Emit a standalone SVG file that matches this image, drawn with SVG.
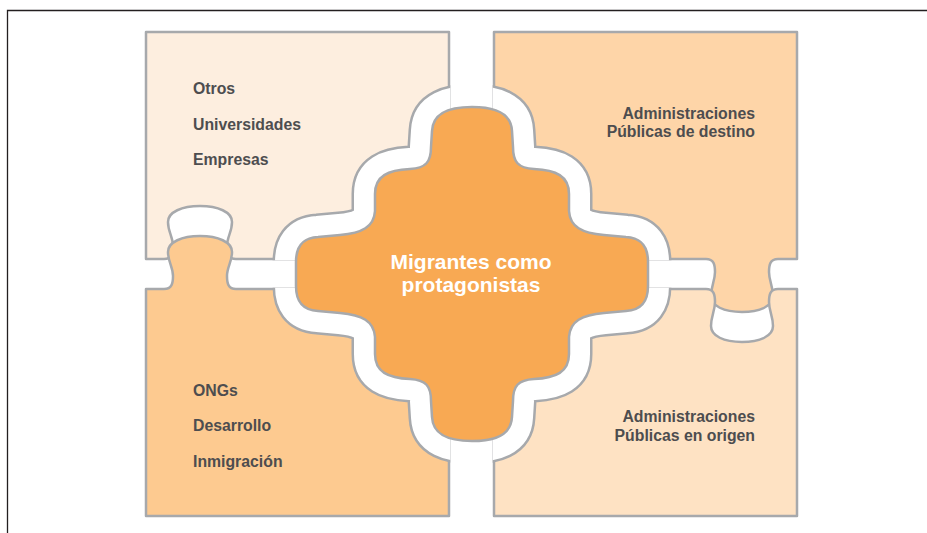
<svg xmlns="http://www.w3.org/2000/svg" width="927" height="533" viewBox="0 0 927 533">
<style>
.piece{stroke:#A7A9AC;stroke-width:2.5;stroke-linejoin:round}
.lbl{font-family:"Liberation Sans",Arial,sans-serif;font-weight:bold;font-size:15.8px;fill:#4D4D4F}
.ctr{font-family:"Liberation Sans",Arial,sans-serif;font-weight:bold;font-size:21px;fill:#FFFFFF;text-anchor:middle}
</style>
<defs>
<path id="blob" d="M472,107 C450,107 433,112 432,131 L431,147 C431,162 426,168 410,169 C388,170 375,176 375,194 L375,211 C374,227 362,233 340,235 L318,237 C301,238 296,248 296,262 L296,286 C296,300 301,310 318,311 L340,313 C362,315 374,321 375,337 L375,354 C375,372 388,378 410,379 C426,380 431,386 431,401 L432,417 C433,436 450,441 472,441 C494,441 511,436 512,417 L513,401 C513,386 518,380 534,379 C556,378 569,372 569,354 L569,337 C570,321 582,315 604,313 L626,311 C643,310 648,300 648,286 L648,262 C648,248 643,238 626,237 L604,235 C582,233 570,227 569,211 L569,194 C569,176 556,170 534,169 C518,168 513,162 513,147 L512,131 C511,112 494,107 472,107 Z"/>
<clipPath id="pieces">
<rect x="144.7" y="30.7" width="305.6" height="229.6"/>
<rect x="492.7" y="30.7" width="305.6" height="229.6"/>
<rect x="144.7" y="287.7" width="305.6" height="229.6"/>
<rect x="492.7" y="287.7" width="305.6" height="229.6"/>
</clipPath>
</defs>
<g id="frame" fill="none" stroke="#231F20" stroke-width="1.3">
<path d="M7.5,533 V10.5 H927"/>
</g>
<g id="piece-top-left">
<path class="piece" fill="#FDEEDF" d="M146,32 H449 V259 H236 C228,259 227,253 227,246 C227,237 232,232 232,222 C232,212 218,206 200,206 C182,206 168,212 168,222 C168,232 173,237 173,246 C173,253 172,259 164,259 H146 Z"/>
<text class="lbl" x="193" y="93.5">Otros</text>
<text class="lbl" x="193" y="129.5">Universidades</text>
<text class="lbl" x="193" y="164.5">Empresas</text>
</g>
<g id="piece-top-right">
<path class="piece" fill="#FED5A8" d="M494,32 H797 V259 H778 C770,259 769,265 769,272 C769,281 773,286 773,296 C773,306 760,312 742,312 C724,312 711,306 711,296 C711,286 715,281 715,272 C715,265 714,259 706,259 H494 Z"/>
<text class="lbl" x="755" y="118.5" text-anchor="end">Administraciones</text>
<text class="lbl" x="755" y="136.5" text-anchor="end">Públicas de destino</text>
</g>
<g id="piece-bottom-left">
<path class="piece" fill="#FDCA90" d="M146,289 H164 C172,289 173,283 173,276 C173,267 168,262 168,252 C168,242 182,236 200,236 C218,236 232,242 232,252 C232,262 227,267 227,276 C227,283 228,289 236,289 H449 V516 H146 Z"/>
<text class="lbl" x="193" y="395.5">ONGs</text>
<text class="lbl" x="193" y="430.5">Desarrollo</text>
<text class="lbl" x="193" y="466.5">Inmigración</text>
</g>
<g id="piece-bottom-right">
<path class="piece" fill="#FEE2C3" d="M494,289 H706 C714,289 715,295 715,302 C715,311 711,316 711,326 C711,336 724,342 742,342 C760,342 773,336 773,326 C773,316 769,311 769,302 C769,295 770,289 778,289 H797 V516 H494 Z"/>
<text class="lbl" x="755" y="421.5" text-anchor="end">Administraciones</text>
<text class="lbl" x="755" y="440.5" text-anchor="end">Públicas en origen</text>
</g>
<g id="halo" clip-path="url(#pieces)" fill="none" stroke-linejoin="round">
<use href="#blob" stroke="#A7A9AC" stroke-width="47"/>
<use href="#blob" stroke="#FFFFFF" stroke-width="42"/>
</g>
<g id="center">
<use href="#blob" fill="#F8A953" stroke="#A7A9AC" stroke-width="2.5"/>
<text class="ctr" x="471" y="269">Migrantes como</text>
<text class="ctr" x="471" y="292">protagonistas</text>
</g>
</svg>
